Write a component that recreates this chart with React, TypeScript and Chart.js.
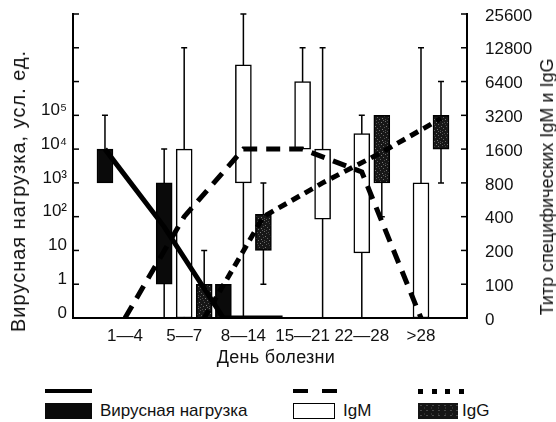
import React, { useEffect, useRef } from 'react';
import { Chart, registerables } from 'chart.js';

Chart.register(...registerables);

// ---------- data ----------
const categories = ['1—4', '5—7', '8—14', '15—21', '22—28', '>28'];
const viralTickLabels = ['0', '1', '10', '10²', '10³', '10⁴', '10⁵', '', '', ''];
const titerTickLabels = ['0', '100', '200', '400', '800', '1600', '3200', '6400', '12800', '25600'];

// viral load, conventional units
const viralMin = [1000, 0, 0, null, null, null];
const viralQ1 = [1000, 1, 0, null, null, null];
const viralMedian = [10000, 50, 0, 0, null, null];
const viralQ3 = [10000, 1000, 1, null, null, null];
const viralMax = [100000, 10000, 1, null, null, null];

// specific IgM titre
const igmMin = [null, 0, 0, 1600, 0, 0];
const igmQ1 = [null, 0, 800, 1600, 190, 0];
const igmMedian = [0, 400, 1600, 1600, 1000, 0];
const igmQ3 = [null, 1600, 9000, 6400, 2200, 800];
const igmMax = [null, 12800, 25600, 12800, 3200, 12800];

// specific IgG titre
const iggMin = [null, 0, 100, 0, 400, 800];
const iggQ1 = [null, 0, 200, 380, 800, 1600];
const iggMedian = [null, 0, 400, 800, 1500, 3000];
const iggQ3 = [null, 100, 420, 1600, 3200, 3200];
const iggMax = [null, 200, 800, 12800, 3200, 6400];
// the 15—21 IgG box is printed unshaded in the original
const iggFill = ['tex', 'tex', 'tex', 'white', 'tex', 'tex'];

// ---------- axis transforms (axis positions are evenly spaced steps) ----------
const viralPos = (v: number) => (v <= 0 ? 0 : v < 1 ? v : Math.log10(v) + 1);
const titerPos = (t: number) => (t <= 0 ? 0 : t < 100 ? t / 100 : Math.log2(t / 100) + 1);

const SLOT = 0.338;
const FONT = "'Liberation Sans', Arial, Helvetica, sans-serif";

type Stat = { x: number; min: number; q1: number; q3: number; max: number; i: number };

function buildStats(mins: any[], q1s: any[], q3s: any[], maxs: any[], off: number, conv: (n: number) => number): Stat[] {
  const out: Stat[] = [];
  categories.forEach((_, i) => {
    if (q1s[i] == null || q3s[i] == null) return;
    out.push({ x: i + off, min: conv(mins[i]), q1: conv(q1s[i]), q3: conv(q3s[i]), max: conv(maxs[i]), i });
  });
  return out;
}

function buildLine(med: any[], off: number, conv: (n: number) => number) {
  const out: any[] = [];
  med.forEach((m, i) => {
    if (m == null) return;
    out.push({ x: i + off, y: conv(m) });
  });
  return out;
}

// fixed speckle tile for the shaded IgG boxes
const SPECKLES: [number, number, string][] = [
  [0, 0, '#6a6a6a'], [4, 1, '#4c4c4c'], [7, 1, '#7c7c7c'], [2, 2, '#555'], [9, 3, '#686868'],
  [5, 3, '#3e3e3e'], [1, 5, '#737373'], [6, 5, '#5c5c5c'], [10, 6, '#4a4a4a'], [3, 7, '#606060'],
  [8, 8, '#7a7a7a'], [0, 9, '#474747'], [5, 9, '#6e6e6e'], [2, 10, '#525252'], [9, 10, '#5e5e5e'],
];

function makePattern(): CanvasPattern | string {
  const c = document.createElement('canvas');
  c.width = 11;
  c.height = 11;
  const g = c.getContext('2d');
  if (!g) return '#222';
  g.fillStyle = '#171717';
  g.fillRect(0, 0, 11, 11);
  SPECKLES.forEach(([x, y, col]) => {
    g.fillStyle = col;
    g.fillRect(x, y, 1, 1);
  });
  return g.createPattern(c, 'repeat') || '#222';
}

const whiskerPlugin = {
  id: 'whiskers',
  beforeDatasetsDraw(chart: any) {
    const ctx = chart.ctx;
    const xs = chart.scales.x;
    chart.data.datasets.forEach((ds: any) => {
      if (!ds.boxStats) return;
      const ys = chart.scales[ds.yAxisID];
      ds.boxStats.forEach((s: Stat) => {
        const px = xs.getPixelForValue(s.x);
        const top = ys.getPixelForValue(s.max);
        const bot = ys.getPixelForValue(s.min);
        ctx.save();
        ctx.strokeStyle = '#000';
        ctx.lineWidth = 1.5;
        ctx.beginPath();
        ctx.moveTo(px, bot);
        ctx.lineTo(px, top);
        if (s.max > s.q3) {
          ctx.moveTo(px - 3, top);
          ctx.lineTo(px + 3, top);
        }
        if (s.min < s.q1 && s.min > 0) {
          ctx.moveTo(px - 3, bot);
          ctx.lineTo(px + 3, bot);
        }
        ctx.stroke();
        ctx.restore();
      });
    });
  },
};

const inwardTicks = {
  id: 'inwardTicks',
  afterDraw(chart: any) {
    const ctx = chart.ctx;
    ctx.save();
    ctx.strokeStyle = '#000';
    ctx.lineWidth = 1.5;
    ['y', 'y1'].forEach((id) => {
      const s = chart.scales[id];
      s.ticks.forEach((t: any) => {
        const py = s.getPixelForValue(t.value);
        ctx.beginPath();
        if (id === 'y') {
          ctx.moveTo(s.right, py);
          ctx.lineTo(s.right + 6, py);
        } else {
          ctx.moveTo(s.left, py);
          ctx.lineTo(s.left - 6, py);
        }
        ctx.stroke();
      });
    });
    ctx.restore();
  },
};

export default function App() {
  const ref = useRef<HTMLCanvasElement | null>(null);

  useEffect(() => {
    if (!ref.current) return;
    const pattern = makePattern();

    const viralStats = buildStats(viralMin, viralQ1, viralQ3, viralMax, -SLOT, viralPos);
    const igmStats = buildStats(igmMin, igmQ1, igmQ3, igmMax, 0, titerPos);
    const iggStats = buildStats(iggMin, iggQ1, iggQ3, iggMax, SLOT, titerPos);

    const boxDs = (stats: Stat[], axis: string, bg: any) => ({
      type: 'bar',
      yAxisID: axis,
      data: stats.map((s) => ({ x: s.x, y: [s.q1, s.q3], i: s.i })),
      boxStats: stats,
      backgroundColor: bg,
      borderColor: '#000',
      borderWidth: 1.5,
      borderSkipped: false,
      grouped: false,
      barThickness: 16,
      order: 1,
    });

    const lineDs = (data: any[], axis: string, dash: number[]) => ({
      type: 'line',
      yAxisID: axis,
      data,
      borderColor: '#000',
      borderWidth: 5,
      borderDash: dash,
      borderCapStyle: 'butt',
      pointRadius: 0,
      tension: 0,
      fill: false,
      order: 0,
    });

    const tickFont = { family: FONT, size: 17 };
    const noPadV = (s: any) => {
      s.paddingTop = 0;
      s.paddingBottom = 0;
    };

    const chart = new Chart(ref.current, {
      type: 'bar',
      data: {
        datasets: [
          lineDs(buildLine(viralMedian, -SLOT, viralPos), 'y', []),
          lineDs(buildLine(igmMedian, 0, titerPos), 'y1', [14, 9]),
          lineDs(buildLine(iggMedian, SLOT, titerPos), 'y1', [9, 6]),
          boxDs(viralStats, 'y', '#0a0a0a'),
          boxDs(igmStats, 'y1', '#ffffff'),
          boxDs(iggStats, 'y1', (c: any) => (c.raw && iggFill[c.raw.i] === 'white' ? '#ffffff' : pattern)),
        ] as any,
      },
      options: {
        animation: false,
        responsive: false,
        layout: { padding: { top: 14, left: 0, right: 0, bottom: 0 } },
        plugins: { legend: { display: false }, tooltip: { enabled: false } },
        scales: {
          x: {
            type: 'linear',
            offset: false,
            min: -0.878,
            max: 5.777,
            grid: { display: false, drawTicks: false },
            border: { display: true, color: '#000', width: 2 },
            ticks: {
              autoSkip: false,
              maxRotation: 0,
              padding: 8,
              color: '#111',
              font: tickFont,
              callback: (v: any) => categories[v] ?? '',
            },
            afterBuildTicks: (s: any) => {
              s.ticks = categories.map((_, i) => ({ value: i }));
            },
            afterFit: (s: any) => {
              s.height = 32;
              s.paddingLeft = 0;
              s.paddingRight = 0;
            },
          },
          y: {
            type: 'linear',
            position: 'left',
            min: 0,
            max: 9,
            grid: { display: false, drawTicks: false },
            border: { display: true, color: '#000', width: 2 },
            ticks: {
              stepSize: 1,
              padding: 6,
              labelOffset: -5,
              color: '#111',
              font: tickFont,
              callback: (v: any) => viralTickLabels[v] ?? '',
            },
            afterFit: (s: any) => {
              s.width = 73;
              noPadV(s);
            },
          },
          y1: {
            type: 'linear',
            position: 'right',
            min: 0,
            max: 9,
            grid: { display: false, drawTicks: false },
            border: { display: true, color: '#000', width: 2 },
            ticks: {
              stepSize: 1,
              padding: 18,
              labelOffset: 2,
              color: '#111',
              font: tickFont,
              callback: (v: any) => titerTickLabels[v] ?? '',
            },
            afterFit: (s: any) => {
              s.width = 89;
              noPadV(s);
            },
          },
        },
      } as any,
      plugins: [whiskerPlugin, inwardTicks],
    });
    return () => chart.destroy();
  }, []);

  const text: React.CSSProperties = {
    position: 'absolute',
    fontFamily: FONT,
    fontSize: 17,
    color: '#111',
    whiteSpace: 'nowrap',
    lineHeight: '20px',
  };

  return (
    <div
      style={{
        position: 'fixed',
        left: 0,
        top: 0,
        width: 556,
        height: 422,
        background: '#fff',
        overflow: 'hidden',
      }}
    >
      <canvas ref={ref} width={556} height={350} style={{ position: 'absolute', left: 0, top: 0, display: 'block' }} />
      <div
        style={{
          ...text,
          fontSize: 20,
          letterSpacing: 1,
          left: 18,
          top: 191,
          transform: 'translate(-50%, -50%) rotate(-90deg)',
        }}
      >
        Вирусная нагрузка, усл. ед.
      </div>
      <div
        style={{
          ...text,
          fontSize: 18,
          left: 547,
          top: 187,
          transform: 'translate(-50%, -50%) rotate(-90deg)',
        }}
      >
        Титр специфических IgM и IgG
      </div>
      <div
        style={{ ...text, fontSize: 18, letterSpacing: 0.3, left: 276, top: 357, transform: 'translate(-50%, -50%)' }}
      >
        День болезни
      </div>

      {/* legend */}
      <div style={{ position: 'absolute', left: 45, top: 389, width: 47, height: 4, background: '#000' }} />
      <div style={{ position: 'absolute', left: 45, top: 403, width: 47, height: 16, background: '#0a0a0a' }} />
      <div style={{ ...text, left: 100, top: 401 }}>Вирусная нагрузка</div>

      <div
        style={{
          position: 'absolute',
          left: 293,
          top: 389,
          width: 44,
          height: 4,
          background: 'repeating-linear-gradient(to right, #000 0 15px, transparent 15px 29px)',
        }}
      />
      <div
        style={{
          position: 'absolute',
          left: 293,
          top: 403,
          width: 42,
          height: 16,
          boxSizing: 'border-box',
          border: '1.5px solid #000',
          background: '#fff',
        }}
      />
      <div style={{ ...text, left: 343, top: 401 }}>IgM</div>

      <div
        style={{
          position: 'absolute',
          left: 418,
          top: 389,
          width: 46,
          height: 5,
          background: 'repeating-linear-gradient(to right, #000 0 5px, transparent 5px 13.5px)',
        }}
      />
      <div
        style={{
          position: 'absolute',
          left: 418,
          top: 403,
          width: 40,
          height: 16,
          backgroundColor: '#151515',
          backgroundImage:
            'radial-gradient(#4a4a4a 0.5px, transparent 0.8px), radial-gradient(#3a3a3a 0.5px, transparent 0.8px)',
          backgroundSize: '6px 5px, 7px 6px',
          backgroundPosition: '0 0, 3px 2px',
        }}
      />
      <div style={{ ...text, left: 462, top: 401 }}>IgG</div>
    </div>
  );
}
